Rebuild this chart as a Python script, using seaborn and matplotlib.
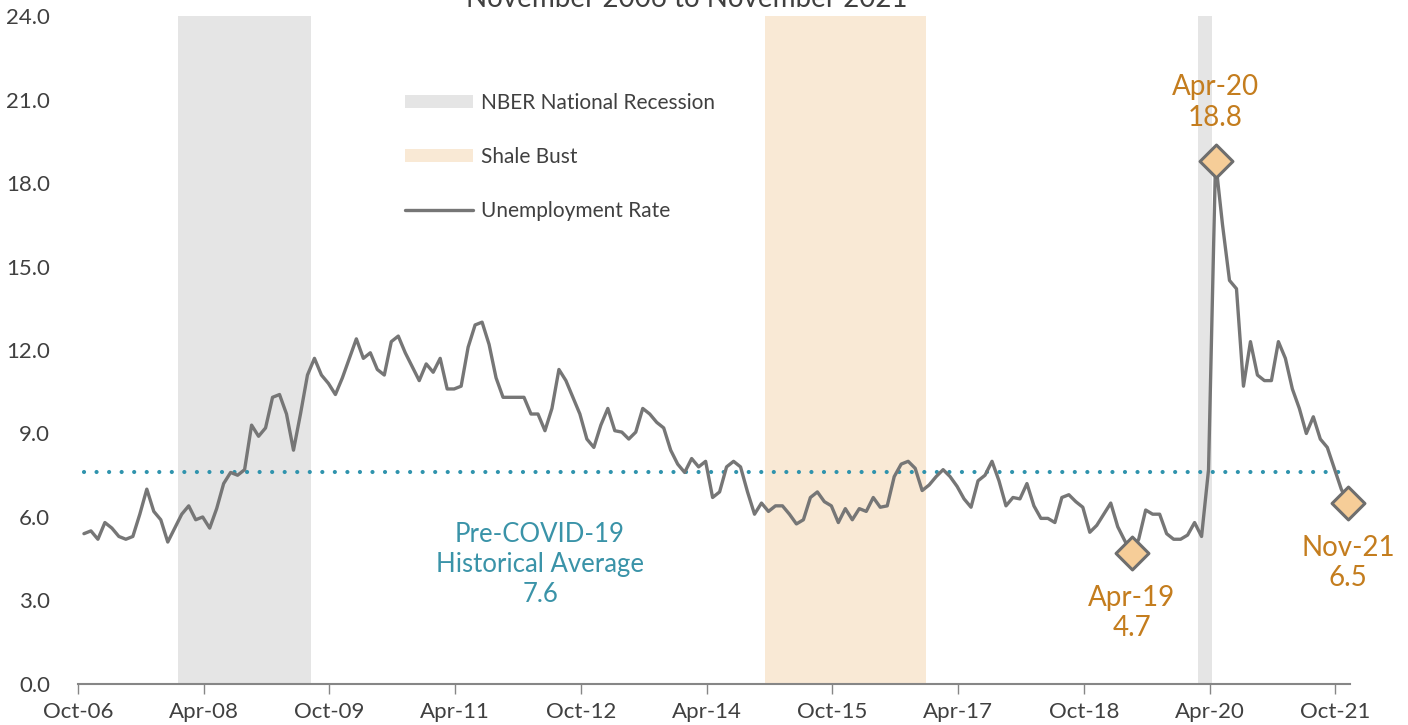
import numpy as np
import pandas as pd
import matplotlib
matplotlib.use("Agg")
import matplotlib.pyplot as plt
from matplotlib.patches import Patch
from matplotlib.lines import Line2D
import seaborn as sns

# ------------------------------
# Data
# ------------------------------
months = pd.period_range("2006-10", "2021-11", freq="M")

rate = [
    5.4, 5.5, 5.2, 5.8, 5.6, 5.3, 5.2, 5.3, 6.1, 7.0,
    6.2, 5.9, 5.1, 5.6, 6.1, 6.4, 5.9, 6.0, 5.6, 6.3,
    7.2, 7.6, 7.5, 7.7, 9.3, 8.9, 9.2, 10.3, 10.4, 9.7,
    8.4, 9.7, 11.1, 11.7, 11.1, 10.8, 10.4, 11.0, 11.7, 12.4,
    11.7, 11.9, 11.3, 11.1, 12.3, 12.5, 11.9, 11.4, 10.9, 11.5,
    11.2, 11.7, 10.6, 10.6, 10.7, 12.1, 12.9, 13.0, 12.2, 11.0,
    10.3, 10.3, 10.3, 10.3, 9.7, 9.7, 9.1, 9.9, 11.3, 10.9,
    10.3, 9.7, 8.8, 8.5, 9.3, 9.9, 9.1, 9.05, 8.8, 9.05,
    9.9, 9.7, 9.4, 9.2, 8.4, 7.9, 7.6, 8.1, 7.8, 8.0,
    6.7, 6.9, 7.8, 8.0, 7.8, 6.9, 6.1, 6.5, 6.2, 6.4,
    6.4, 6.1, 5.75, 5.9, 6.7, 6.9, 6.55, 6.4, 5.8, 6.3,
    5.9, 6.3, 6.2, 6.7, 6.35, 6.4, 7.45, 7.9, 8.0, 7.75,
    6.95, 7.15, 7.45, 7.7, 7.45, 7.1, 6.65, 6.35, 7.3, 7.5,
    8.0, 7.3, 6.4, 6.7, 6.65, 7.2, 6.4, 5.95, 5.95, 5.8,
    6.7, 6.8, 6.55, 6.35, 5.45, 5.7, 6.1, 6.5, 5.65, 5.15,
    4.7, 5.2, 6.25, 6.1, 6.1, 5.4, 5.2, 5.2, 5.35, 5.8,
    5.3, 7.7, 18.8, 16.5, 14.5, 14.2, 10.7, 12.3, 11.1, 10.9,
    10.9, 12.3, 11.7, 10.6, 9.9, 9.0, 9.6, 8.8, 8.5, 7.75,
    7.0, 6.5,
]

pre_covid_avg = 7.6
nber_periods = [("2007-12", "2009-06"), ("2020-02", "2020-03")]
shale_periods = [("2014-12", "2016-10")]
callout_months = ["2020-04", "2019-04", "2021-11"]
callout_offsets = [58, -60, -60]   # pixels above / below the marker

# ------------------------------
# Colours
# ------------------------------
line_color = "#767676"
avg_color = "#2f93ad"
nber_color = "#e5e5e5"
shale_color = "#f9e9d5"
callout_color = "#c47d1e"
text_color = "#404040"

df = pd.DataFrame({"idx": np.arange(len(months)), "rate": rate})
df["avg"] = pre_covid_avg

sns.set_theme(style="white")
plt.rcParams["font.family"] = ["Lato", "DejaVu Sans"]

fig = plt.figure(figsize=(14.08, 7.25), dpi=100)
ax = fig.add_axes([0.0554, 0.0566, 0.9034, 0.9213])

# shaded periods (one monthly column per month)
for start, end in nber_periods:
    ax.axvspan(months.get_loc(pd.Period(start, "M")) - 0.5,
               months.get_loc(pd.Period(end, "M")) + 0.5,
               color=nber_color, lw=0, zorder=0)
for start, end in shale_periods:
    ax.axvspan(months.get_loc(pd.Period(start, "M")) - 0.5,
               months.get_loc(pd.Period(end, "M")) + 0.5,
               color=shale_color, lw=0, zorder=0)

# unemployment rate + historical average
sns.lineplot(data=df, x="idx", y="rate", color=line_color, lw=2.4, ax=ax, zorder=3)
sns.lineplot(data=df, x="idx", y="avg", color=avg_color, lw=3.0,
             linestyle=(0, (0.01, 3.0)), ax=ax, zorder=2)
ax.lines[-1].set_dash_capstyle("round")

# callout diamonds
pts = df.iloc[[months.get_loc(pd.Period(m, "M")) for m in callout_months]]
sns.scatterplot(data=pts, x="idx", y="rate", marker="D", s=280,
                color="#f6cd98", edgecolor="#6e6e6e", linewidth=2.2,
                ax=ax, zorder=5, clip_on=False)

for (_, row), m, dy in zip(pts.iterrows(), callout_months, callout_offsets):
    label = pd.Period(m, "M").strftime("%b-%y") + "\n" + f"{row['rate']:.1f}"
    ax.annotate(label, xy=(row["idx"], row["rate"]), xytext=(0, dy),
                textcoords="offset pixels", ha="center", va="center",
                fontsize=20, color=callout_color, linespacing=1.22, zorder=6)

ax.text(65.3, 4.28, f"Pre-COVID-19\nHistorical Average\n{pre_covid_avg:.1f}",
        ha="center", va="center", fontsize=18.5, color="#3a93a8",
        linespacing=1.25)

# axes
ax.set_xlim(-0.85, 181.25)
ax.set_ylim(0, 24)
tick_idx = np.arange(0, len(months), 18)
ax.set_xticks(tick_idx - 0.85)
ax.set_xticklabels([months[i].strftime("%b-%y") for i in tick_idx])
yt = np.arange(0, 24.1, 3)
ax.set_yticks(yt)
ax.set_yticklabels([f"{v:.1f}" for v in yt])
ax.set_xlabel("")
ax.set_ylabel("")
for s in ["top", "right", "left"]:
    ax.spines[s].set_visible(False)
ax.spines["bottom"].set_color("#868686")
ax.spines["bottom"].set_linewidth(1.5)
ax.tick_params(axis="x", length=7, width=1, color="#868686", direction="out",
               pad=6, labelsize=16, labelcolor=text_color, bottom=True)
ax.tick_params(axis="y", length=0, pad=20, labelsize=16, labelcolor=text_color)
ax.grid(False)

# legend
handles = [Patch(facecolor=nber_color, edgecolor="none"),
           Patch(facecolor=shale_color, edgecolor="none"),
           Line2D([], [], color=line_color, lw=2.4)]
labels = ["NBER National Recession", "Shale Bust", "Unemployment Rate"]
ax.legend(handles, labels, loc="upper left",
          bbox_to_anchor=(405 / 1408, 1 - 93 / 725), bbox_transform=fig.transFigure,
          frameon=False, fontsize=15, handlelength=3.27, handleheight=0.6,
          labelspacing=1.63, handletextpad=0.38, borderpad=0, borderaxespad=0,
          labelcolor=text_color)

# title (cut off at the top edge, as in the source)
fig.text(0.488, 1.001, "November 2006 to November 2021", ha="center", va="center",
         fontsize=20, color=text_color)

fig.savefig("out.png", dpi=100)
